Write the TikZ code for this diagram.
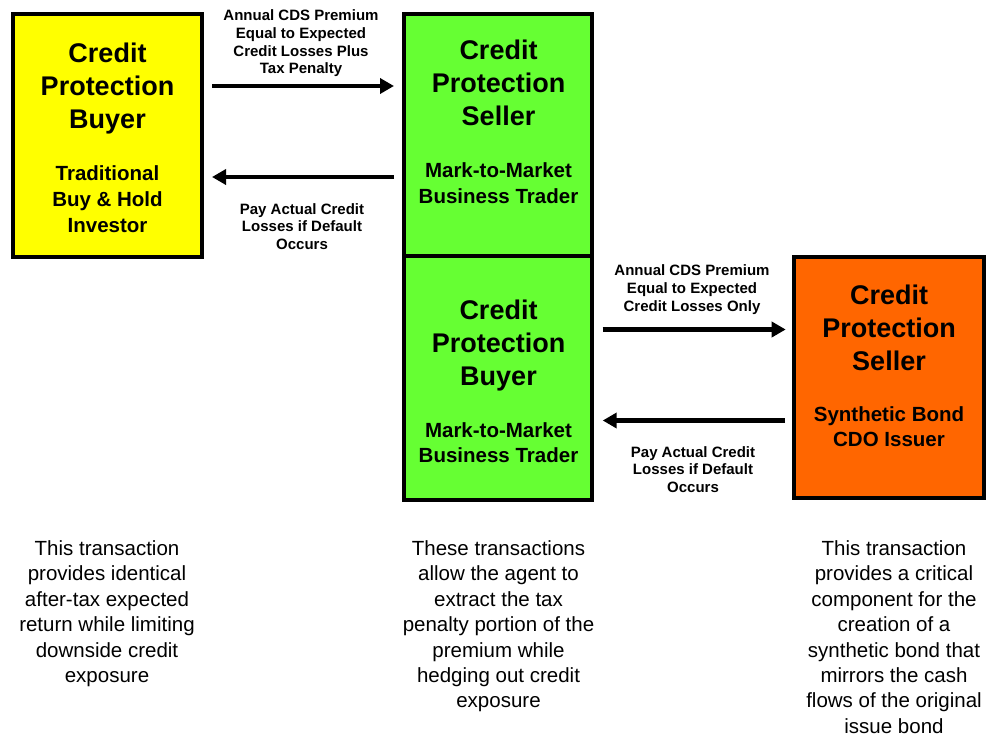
\documentclass[tikz,border=0pt]{standalone}
\usepackage{fontspec}
\setmainfont{Liberation Sans}
\usetikzlibrary{arrows.meta}
\definecolor{cyellow}{HTML}{FFFF00}
\definecolor{cgreen}{HTML}{66FF33}
\definecolor{corange}{HTML}{FF6600}
\begin{document}
\begin{tikzpicture}[x=1pt,y=-1pt,
  box/.style={draw=black, line width=4pt, inner sep=0pt, rectangle},
  title/.style={font=\bfseries\fontsize{27}{32.8}\selectfont, align=center, inner sep=0pt, anchor=north},
  sub/.style={font=\bfseries\fontsize{20.5}{25.8}\selectfont, align=center, inner sep=0pt, anchor=north},
  lbl/.style={font=\bfseries\fontsize{15}{17.8}\selectfont, align=center, inner sep=0pt, anchor=north},
  note/.style={font=\fontsize{20.5}{25.4}\selectfont, align=center, inner sep=0pt, anchor=north},
  arr/.style={line width=4.5pt, -{Triangle[length=14pt,width=15pt]}}
]
\useasboundingbox (0,0) rectangle (992,736);

% boxes
\node[box, fill=cyellow, minimum width=189pt, minimum height=243pt] (buyer) at (107.5,135.5) {};
\node[box, fill=cgreen, minimum width=188pt, minimum height=242pt] (gtop) at (498,135) {};
\node[box, fill=cgreen, minimum width=188pt, minimum height=244pt] (gbot) at (498,378) {};
\node[box, fill=corange, minimum width=190pt, minimum height=241pt] (cdo) at (889,377.5) {};

% box texts
\node[title] (buyerT) at (107.5,43) {Credit\\Protection\\Buyer};
\node[sub] (buyerS) at (107.5,165.5) {Traditional\\Buy \& Hold\\Investor};
\node[title] (gtopT) at (498.5,40) {Credit\\Protection\\Seller};
\node[sub] (gtopS) at (498.5,162.5) {Mark-to-Market\\Business Trader};
\node[title] (gbotT) at (498.5,300) {Credit\\Protection\\Buyer};
\node[sub] (gbotS) at (498.5,422) {Mark-to-Market\\Business Trader};
\node[title] (cdoT) at (889,285) {Credit\\Protection\\Seller};
\node[sub] (cdoS) at (889,406) {Synthetic Bond\\CDO Issuer};

% arrows
\draw[arr, shorten <=8pt, shorten >=8pt] (buyer.east |- 0,86) -- (gtop.west |- 0,86);
\draw[arr, shorten <=8pt, shorten >=8pt] (gtop.west |- 0,177) -- (buyer.east |- 0,177);
\draw[arr, shorten <=8.7pt, shorten >=6.3pt] (gbot.east |- 0,329.5) -- (cdo.west |- 0,329.5);
\draw[arr, shorten <=7pt, shorten >=8.7pt] (cdo.west |- 0,420.5) -- (gbot.east |- 0,420.5);

% arrow labels
\node[lbl] (l1) at (301,9.5) {Annual CDS Premium\\Equal to Expected\\Credit Losses Plus\\Tax Penalty};
\node[lbl] (l2) at (302,203) {Pay Actual Credit\\Losses if Default\\Occurs};
\node[lbl] (l3) at (692,264.5) {Annual CDS Premium\\Equal to Expected\\Credit Losses Only};
\node[lbl] (l4) at (693,446) {Pay Actual Credit\\Losses if Default\\Occurs};

% notes
\node[note] (n1) at (107,540.5) {This transaction\\provides identical\\after-tax expected\\return while limiting\\downside credit\\exposure};
\node[note] (n2) at (498.5,540.5) {These transactions\\allow the agent to\\extract the tax\\penalty portion of the\\premium while\\hedging out credit\\exposure};
\node[note] (n3) at (894,540.5) {This transaction\\provides a critical\\component for the\\creation of a\\synthetic bond that\\mirrors the cash\\flows of the original\\issue bond};
\end{tikzpicture}
\end{document}
